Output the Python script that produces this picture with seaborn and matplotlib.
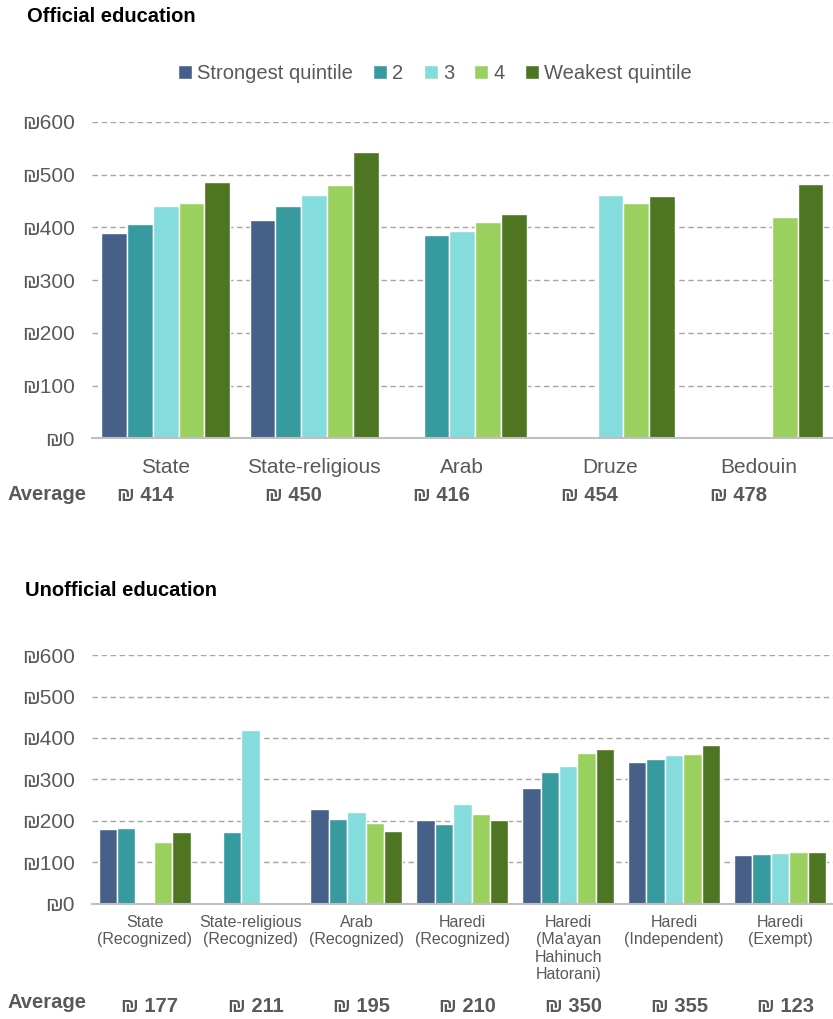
import numpy as np
import pandas as pd
import matplotlib
matplotlib.use("Agg")
import matplotlib.pyplot as plt
import seaborn as sns

nan = np.nan

quintiles = ["Strongest quintile", "2", "3", "4", "Weakest quintile"]
colors = ["#46608A", "#379A9F", "#84DCDC", "#9AD15E", "#4E7522"]

official_types = ["State", "State-religious", "Arab", "Druze", "Bedouin"]
official_strongest = [389, 414, nan, nan, nan]
official_q2 = [407, 440, 386, nan, nan]
official_q3 = [440, 462, 394, 461, nan]
official_q4 = [447, 480, 411, 447, 420]
official_weakest = [486, 543, 425, 459, 483]
official_avg = [414, 450, 416, 454, 478]

unofficial_types = ["State\n(Recognized)", "State-religious\n(Recognized)",
                    "Arab\n(Recognized)", "Haredi\n(Recognized)",
                    "Haredi\n(Ma'ayan\nHahinuch\nHatorani)",
                    "Haredi\n(Independent)", "Haredi\n(Exempt)"]
unofficial_strongest = [181, nan, 230, 203, 280, 342, 118]
unofficial_q2 = [182, 173, 204, 193, 317, 349, 121]
unofficial_q3 = [nan, 419, 221, 240, 332, 358, 123]
unofficial_q4 = [149, nan, 195, 218, 363, 361, 126]
unofficial_weakest = [173, nan, 175, 202, 374, 382, 126]
unofficial_avg = [177, 211, 195, 210, 350, 355, 123]

yticks = [0, 100, 200, 300, 400, 500, 600]

GRAY = "#595959"


def to_long(types, series):
    rows = []
    for q, vals in zip(quintiles, series):
        for t, v in zip(types, vals):
            rows.append({"type": t, "quintile": q, "value": v})
    return pd.DataFrame(rows).dropna()


def style_axis(ax, n, label_size, label_pad):
    ax.set_ylim(0, 600)
    ax.set_xlim(-0.5, n - 0.5)
    ax.set_yticks(yticks)
    ax.set_yticklabels([f"\u20aa{v}" for v in yticks], color=GRAY, fontsize=15)
    ax.tick_params(axis="y", length=0, pad=12)
    ax.tick_params(axis="x", length=0, pad=label_pad, labelsize=label_size,
                   labelcolor=GRAY)
    for s in ["top", "right", "left"]:
        ax.spines[s].set_visible(False)
    ax.spines["bottom"].set_color("#BFBFBF")
    ax.spines["bottom"].set_linewidth(1.5)
    ax.yaxis.grid(True, color="#A6A6A6", linestyle=(0, (4, 2.5)), linewidth=1)
    ax.xaxis.grid(False)
    ax.set_axisbelow(True)
    ax.set_xlabel("")
    ax.set_ylabel("")


def main():
    sns.set_theme(style="white")
    plt.rcParams["font.family"] = ["Liberation Sans", "DejaVu Sans"]

    fig = plt.figure(figsize=(8.33, 10.19), dpi=100)
    ax1 = fig.add_axes([0.110, 0.5697, 0.890, 0.3106])
    ax2 = fig.add_axes([0.110, 0.1129, 0.890, 0.2443])

    df1 = to_long(official_types, [official_strongest, official_q2, official_q3,
                                   official_q4, official_weakest])
    df2 = to_long(unofficial_types, [unofficial_strongest, unofficial_q2,
                                     unofficial_q3, unofficial_q4,
                                     unofficial_weakest])

    sns.barplot(data=df1, x="type", y="value", hue="quintile",
                order=official_types, hue_order=quintiles, palette=colors,
                errorbar=None, width=0.87, edgecolor="white", linewidth=1,
                saturation=1, ax=ax1)
    sns.barplot(data=df2, x="type", y="value", hue="quintile",
                order=unofficial_types, hue_order=quintiles, palette=colors,
                errorbar=None, width=0.87, edgecolor="white", linewidth=1,
                saturation=1, legend=False, ax=ax2)

    style_axis(ax1, len(official_types), 15, 14)
    style_axis(ax2, len(unofficial_types), 11.5, 8)
    for lab in ax2.get_xticklabels():
        lab.set_verticalalignment("top")
        lab.set_linespacing(1.2)

    handles, labels = ax1.get_legend_handles_labels()
    ax1.get_legend().remove()
    fig.legend(handles, labels, loc="center", bbox_to_anchor=(0.522, 0.928),
               ncol=5, frameon=False, fontsize=14.5, handlelength=0.7,
               handleheight=0.7, handletextpad=0.25, columnspacing=1.0,
               labelcolor=GRAY)

    fig.text(27 / 833, 1 - 16 / 1019, "Official education", fontsize=14.5,
             fontweight="bold", color="black", va="center")
    fig.text(25 / 833, 1 - 591 / 1019, "Unofficial education", fontsize=14.5,
             fontweight="bold", color="black", va="center")

    # average row, top panel
    fig.text(7 / 833, 1 - 495 / 1019, "Average", fontsize=14.5,
             fontweight="bold", color=GRAY, va="center")
    tr1 = ax1.get_xaxis_transform()
    for i, v in enumerate(official_avg):
        ax1.text(i - 0.14, -0.18, f"\u20aa {v}", transform=tr1, ha="center",
                 va="center", fontsize=14.5, fontweight="bold", color=GRAY,
                 clip_on=False)

    # average row, bottom panel
    fig.text(7 / 833, 1 - 1003 / 1019, "Average", fontsize=14.5,
             fontweight="bold", color=GRAY, va="center")
    tr2 = ax2.get_xaxis_transform()
    for i, v in enumerate(unofficial_avg):
        ax2.text(i + 0.05, -0.41, f"\u20aa {v}", transform=tr2, ha="center",
                 va="center", fontsize=14.5, fontweight="bold", color=GRAY,
                 clip_on=False)

    fig.savefig("out.png", dpi=100, facecolor="white")


if __name__ == "__main__":
    main()
